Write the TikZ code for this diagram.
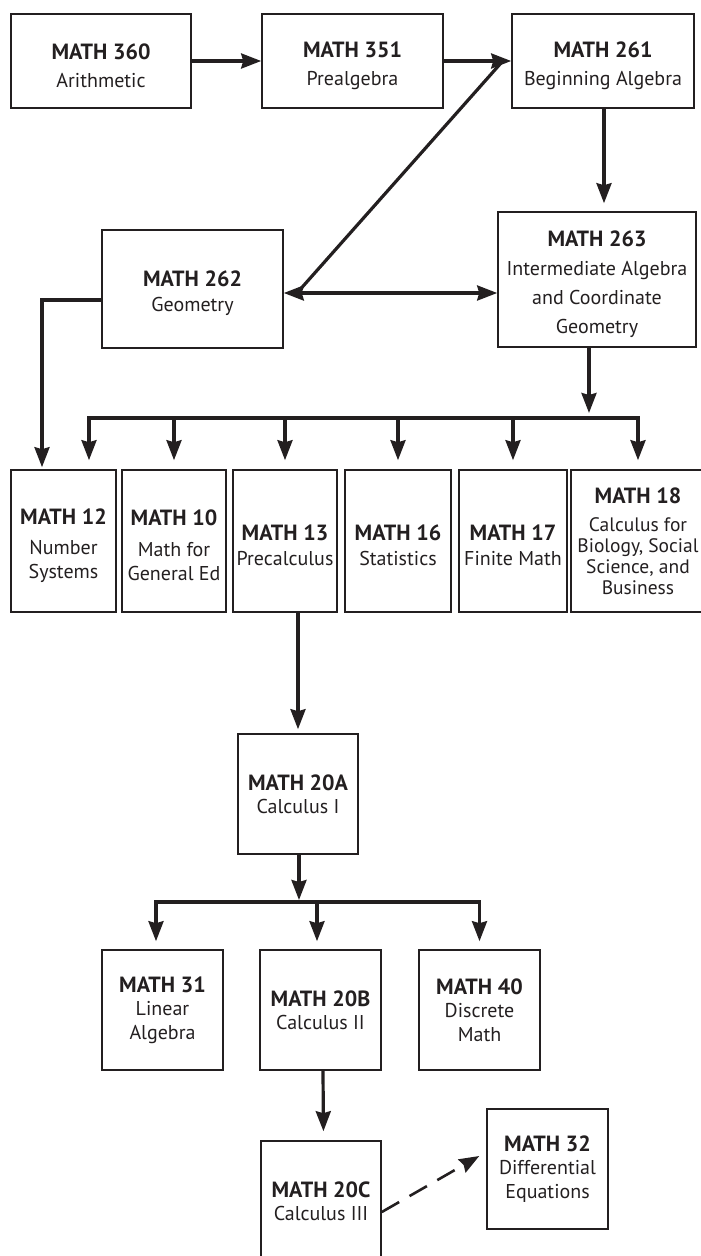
\documentclass[tikz,border=0pt]{standalone}
\usepackage{fontspec}
\setmainfont{PT Sans}
\usetikzlibrary{arrows.meta,calc}
\definecolor{ink}{HTML}{231F20}
\newcommand\crs[1]{{\fontsize{22}{24}\selectfont\bfseries #1}}
\newcommand\crsl[1]{{\rule{0pt}{25pt}\fontsize{22}{24}\selectfont\bfseries #1}}
\tikzset{
  course/.style={draw=ink, line width=1.6pt, inner sep=0pt, align=center, text=ink,
    font=\fontsize{20}{24}\selectfont},
  conn/.style={draw=ink, line width=3.2pt},
  arr/.style={conn, -{Stealth[length=20pt,width=15pt,inset=2pt]}},
  darr/.style={conn, {Stealth[length=20pt,width=15pt,inset=2pt]}-{Stealth[length=20pt,width=15pt,inset=2pt]}},
  bus/.style={conn, line cap=rect},
  dasharr/.style={draw=ink, line width=2.6pt, dash pattern=on 20pt off 12pt,
    -{Stealth[length=20pt,width=15pt,inset=2pt]}}
}
\begin{document}
\begin{tikzpicture}[x=1pt,y=-1pt]
\useasboundingbox (0,0) rectangle (701,1256);
% top row
\node[course, minimum width=180pt, minimum height=94pt] (m360) at (101,61) {\crsl{MATH 360}\\[4pt]Arithmetic};
\node[course, minimum width=181pt, minimum height=94pt] (m351) at (352.5,61) {\crsl{MATH 351}\\[4pt]Prealgebra};
\node[course, minimum width=182pt, minimum height=94pt] (m261) at (603,61) {\crsl{MATH 261}\\[4pt]Beginning Algebra};
% second row
\node[course, minimum width=181pt, minimum height=118pt] (m262) at (192.5,289) {\crsl{MATH 262}\\[1pt]Geometry};
\node[course, minimum width=198pt, minimum height=135pt, font=\fontsize{20}{29}\selectfont] (m263) at (597,279.5) {\crsl{MATH 263}\\Intermediate Algebra\\and Coordinate\\Geometry};
% third row
\node[course, minimum width=105pt, minimum height=142pt] (m12) at (63.5,541) {\crsl{MATH 12}\\[6pt]Number\\Systems};
\node[course, minimum width=104pt, minimum height=142pt] (m10) at (174,541) {\crsl{MATH 10}\\[7pt]Math for\\General Ed};
\node[course, minimum width=104pt, minimum height=142pt] (m13) at (285,541) {\crsl{MATH 13}\\[1pt]Precalculus};
\node[course, minimum width=106pt, minimum height=142pt] (m16) at (398,541) {\crsl{MATH 16}\\[1pt]Statistics};
\node[course, minimum width=108pt, minimum height=142pt] (m17) at (513,541) {\crsl{MATH 17}\\[1pt]Finite Math};
\node[course, minimum width=134pt, minimum height=142pt, font=\fontsize{19.5}{21}\selectfont] (m18) at (638,541) {\crs{MATH 18}\\[7pt]Calculus for\\Biology, Social\\Science, and\\Business};
% calculus
\node[course, minimum width=120pt, minimum height=120pt] (m20A) at (298,794) {\crs{MATH 20A}\\[-1pt]Calculus I};
\node[course, minimum width=121pt, minimum height=120pt] (m31) at (162.5,1010) {\crs{MATH 31}\\[-1pt]Linear\\Algebra};
\node[course, minimum width=121pt, minimum height=120pt] (m20B) at (320.5,1010) {\crs{MATH 20B}\\[-1pt]Calculus II};
\node[course, minimum width=121pt, minimum height=120pt] (m40) at (479.5,1010) {\crs{MATH 40}\\[-1pt]Discrete\\Math};
\node[course, minimum width=120pt, minimum height=120pt] (m20C) at (321,1201) {\crs{MATH 20C}\\[-1pt]Calculus III};
\node[course, minimum width=121pt, minimum height=120pt] (m32) at (547.5,1169) {\crs{MATH 32}\\[-1pt]Differential\\Equations};
% junction coordinates
\coordinate (dtop) at (501,63);
\coordinate (dbot) at (297,293);
\coordinate (bus1) at (589,418);
\coordinate (b12) at (89,418);
\coordinate (bus2) at (299,902);
\coordinate (b31) at (156,902);
% connectors
\draw[arr] (m360.east) -- (m351.west);
\draw[arr] (m351.east) -- (m261.west);
\draw[conn] (dtop) -- (dbot);
\draw[darr] (m262.east |- dbot) -- (m263.west |- dbot);
\draw[arr, shorten >=8pt] ([xshift=1pt]m261.south) -- ([xshift=1pt]m261.south |- m263.north);
\draw[arr, shorten >=5pt] (m263.south -| bus1) -- (bus1);
\draw[bus] (b12) -- (m18.north |- bus1);
\draw[arr, shorten >=9pt] (b12) -- (b12 |- m12.north);
\foreach \n in {m10,m13,m16,m17,m18}
  \draw[arr, shorten >=9pt] (\n.north |- bus1) -- (\n.north);
\draw[arr, shorten >=2pt] ([yshift=-11pt]m262.west) -| ([xshift=-21.5pt]m12.north);
\draw[arr, shorten >=4pt] (m20A.north |- m13.south) -- (m20A.north);
\draw[arr, shorten >=2pt] (m20A.south -| bus2) -- (bus2);
\draw[bus] (b31) -- (m40.north |- bus2);
\draw[arr, shorten >=8pt] (b31) -- (b31 |- m31.north);
\draw[arr, shorten >=8pt] ([xshift=-3.5pt]m20B.north |- bus2) -- ([xshift=-3.5pt]m20B.north);
\draw[arr, shorten >=8pt] (m40.north |- bus2) -- (m40.north);
\draw[arr, shorten >=9pt] ([xshift=2.5pt]m20B.south) -- ([xshift=2.5pt]m20C.north);
\draw[dasharr, shorten >=8pt] ([yshift=-11pt]m20C.east) -- ([yshift=17pt]m32.west);
\end{tikzpicture}
\end{document}
